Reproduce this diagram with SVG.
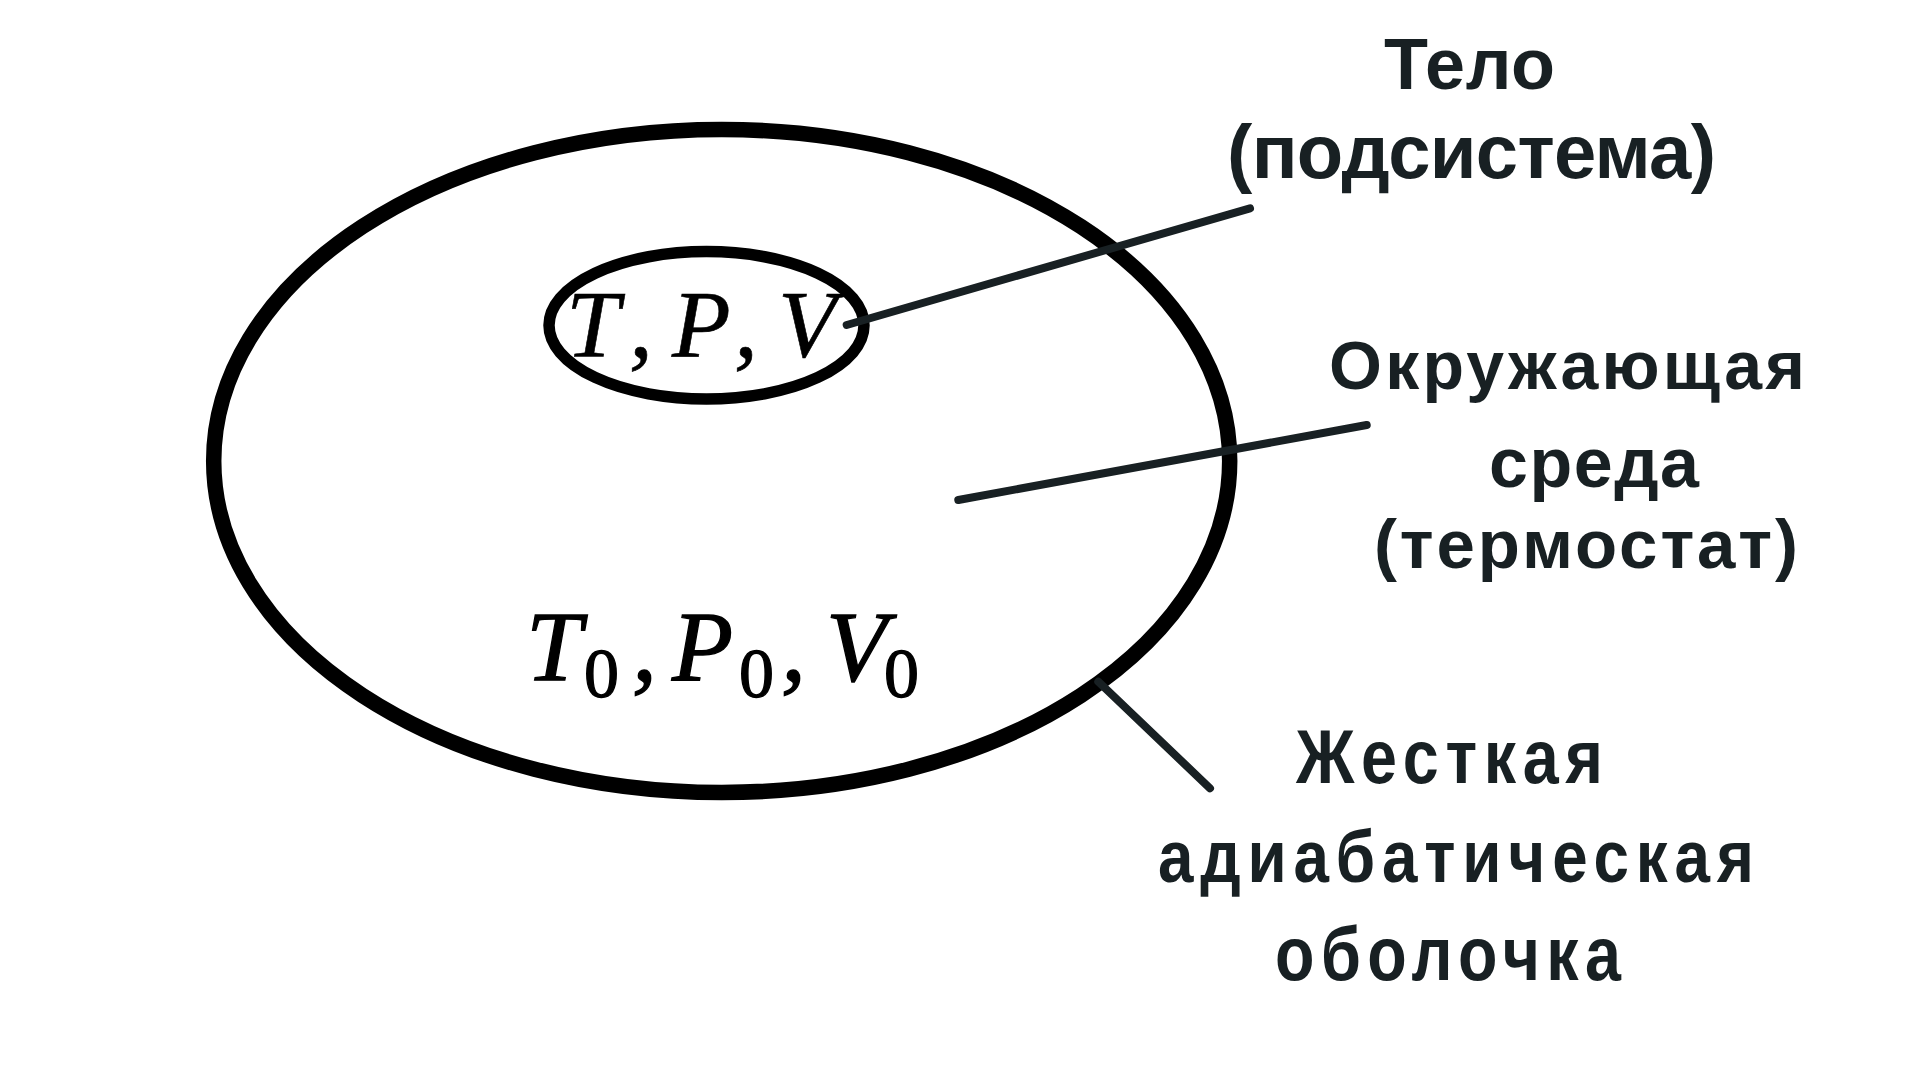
<svg xmlns="http://www.w3.org/2000/svg" width="1920" height="1080" viewBox="0 0 1920 1080">
<style>
.shell{fill:none;stroke:#000;}
.conn{stroke:#182023;stroke-width:8;stroke-linecap:round;fill:none;}
.lbl{font-family:"Liberation Sans",Arial,sans-serif;font-weight:bold;fill:#182023;}
.math{font-family:"Liberation Serif","Times New Roman",serif;font-style:italic;fill:#000;stroke:#000;}
.sub{font-style:normal;}
</style>
<rect width="1920" height="1080" fill="#fff"/>
<g id="environment">
<ellipse class="shell" cx="721.7" cy="461" rx="508" ry="331.5" stroke-width="15.5"/>
<text class="math" font-size="100" stroke-width="1.3" y="680"><tspan x="526">T</tspan><tspan class="sub" x="584" y="697" font-size="70">0</tspan><tspan x="632" y="680">,</tspan><tspan x="672">P</tspan><tspan class="sub" x="739" y="697" font-size="70">0</tspan><tspan x="781" y="680">,</tspan><tspan x="826">V</tspan><tspan class="sub" x="884" y="697" font-size="70">0</tspan></text>
</g>
<g id="body">
<ellipse class="shell" cx="706.5" cy="325.3" rx="157.5" ry="73.7" stroke-width="11.5"/>
<text class="math" font-size="96" stroke-width="0.6" y="357"><tspan x="566">T</tspan><tspan x="629">,</tspan><tspan x="672">P</tspan><tspan x="734">,</tspan><tspan x="778">V</tspan></text>
</g>
<g id="connectors">
<line class="conn" x1="846.7" y1="325" x2="1250" y2="208.3"/>
<line class="conn" x1="958.3" y1="500" x2="1366.7" y2="425"/>
<line class="conn" x1="1098.3" y1="681.7" x2="1210" y2="788.3"/>
</g>
<g id="label-body">
<text class="lbl" font-size="72" x="1384" y="89" textLength="171" lengthAdjust="spacing">Тело</text>
<text class="lbl" font-size="76" x="1227" y="178" textLength="489" lengthAdjust="spacing">(подсистема)</text>
</g>
<g id="label-environment">
<text class="lbl" font-size="68" x="1329" y="389" textLength="476" lengthAdjust="spacing">Окружающая</text>
<text class="lbl" font-size="70" x="1489" y="487" textLength="210" lengthAdjust="spacing">среда</text>
<text class="lbl" font-size="69" x="1374" y="568" textLength="424" lengthAdjust="spacing">(термостат)</text>
</g>
<g id="label-shell" transform="scale(0.85 1)">
<text class="lbl" font-size="76" x="1524.7" y="783" textLength="361.2" lengthAdjust="spacing">Жесткая</text>
<text class="lbl" font-size="75" x="1362.4" y="882" textLength="701.2" lengthAdjust="spacing">адиабатическая</text>
<text class="lbl" font-size="76" x="1500" y="980" textLength="407.1" lengthAdjust="spacing">оболочка</text>
</g>
</svg>
